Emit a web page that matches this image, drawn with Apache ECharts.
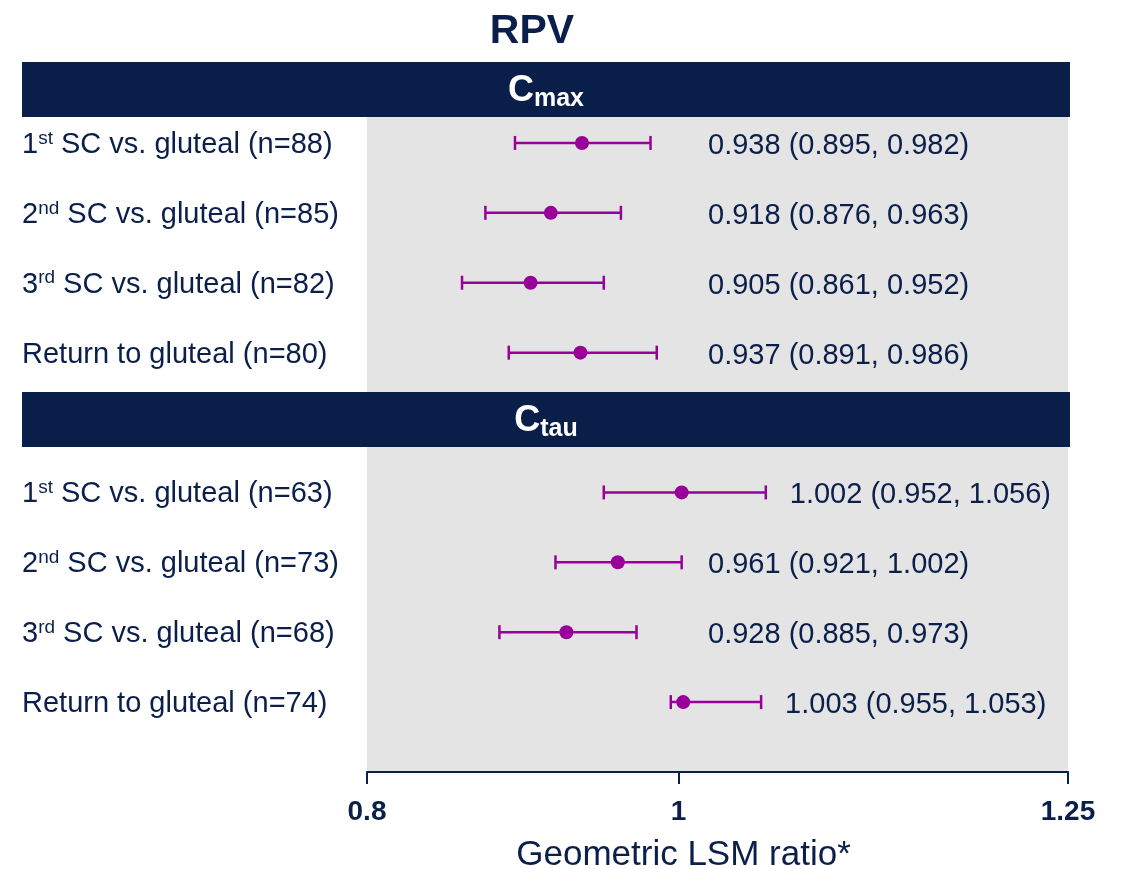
<!DOCTYPE html>
<html>
<head>
<meta charset="utf-8">
<title>RPV</title>
<script src="https://cdn.jsdelivr.net/npm/echarts@6/dist/echarts.min.js"></script>
<style>
  html, body { margin: 0; background: #fff; }
  #main { width: 1122px; height: 869px; }
</style>
</head>
<body>
<div id="main"></div>
<script>
// data
const cmaxRows = ['1st SC vs. gluteal (n=88)', '2nd SC vs. gluteal (n=85)', '3rd SC vs. gluteal (n=82)', 'Return to gluteal (n=80)'];
const cmaxEst = [0.938, 0.918, 0.905, 0.937];
const cmaxLow = [0.895, 0.876, 0.861, 0.891];
const cmaxHigh = [0.982, 0.963, 0.952, 0.986];
const cmaxText = ['0.938 (0.895, 0.982)', '0.918 (0.876, 0.963)', '0.905 (0.861, 0.952)', '0.937 (0.891, 0.986)'];

const ctauRows = ['1st SC vs. gluteal (n=63)', '2nd SC vs. gluteal (n=73)', '3rd SC vs. gluteal (n=68)', 'Return to gluteal (n=74)'];
const ctauEst = [1.002, 0.961, 0.928, 1.003];
const ctauLow = [0.952, 0.921, 0.885, 0.995]; // last whisker is drawn this short in the figure
const ctauHigh = [1.056, 1.002, 0.973, 1.053];
const ctauText = ['1.002 (0.952, 1.056)', '0.961 (0.921, 1.002)', '0.928 (0.885, 0.973)', '1.003 (0.955, 1.053)'];

const xTicks = [0.8, 1, 1.25];

const navy = '#0b1f4b';
const purple = '#990099';
const font = '"Liberation Sans", Arial, sans-serif';

// slot 0..3 = Cmax rows, slot 4 = Ctau header, 5..8 = Ctau rows
const rows = [];
cmaxRows.forEach((name, i) => rows.push([i, cmaxEst[i], cmaxLow[i], cmaxHigh[i], name, cmaxText[i]]));
ctauRows.forEach((name, i) => rows.push([cmaxRows.length + 1 + i, ctauEst[i], ctauLow[i], ctauHigh[i], name, ctauText[i]]));

function richLabel(s) {
  let m = s.match(/^(\d)(st|nd|rd)(.*)$/);
  if (m) return '{n|' + m[1] + '}{s|' + m[2] + '}{n|' + m[3] + '}';
  return '{n|' + s + '}';
}

const labelRich = {
  n: { fontSize: 29, fontFamily: font, fill: navy, color: navy, lineHeight: 32 },
  s: { fontSize: 19, fontFamily: font, fill: navy, color: navy, lineHeight: 18, verticalAlign: 'top' }
};

function renderItem(params, api) {
  let r = rows[params.dataIndex];
  let pe = api.coord([api.value(1), api.value(0)]);
  let xl = api.coord([api.value(2), api.value(0)])[0];
  let xh = api.coord([api.value(3), api.value(0)])[0];
  let y = pe[1];
  let cap = 7;
  let ls = { stroke: purple, lineWidth: 2.5 };
  return {
    type: 'group',
    children: [
      { type: 'line', shape: { x1: xl, y1: y, x2: xh, y2: y }, style: ls },
      { type: 'line', shape: { x1: xl, y1: y - cap, x2: xl, y2: y + cap }, style: ls },
      { type: 'line', shape: { x1: xh, y1: y - cap, x2: xh, y2: y + cap }, style: ls },
      { type: 'circle', shape: { cx: pe[0], cy: y, r: 7 }, style: { fill: purple } },
      {
        type: 'text', x: 22, y: y + 2,
        style: { text: richLabel(r[4]), rich: labelRich, align: 'left', textAlign: 'left', verticalAlign: 'middle', textVerticalAlign: 'middle' }
      },
      {
        type: 'text', x: Math.max(708, xh + 24), y: y + 3,
        style: { text: r[5], fill: navy, fontSize: 29, fontFamily: font, align: 'left', textAlign: 'left', verticalAlign: 'middle', textVerticalAlign: 'middle' }
      }
    ]
  };
}

function header(top, sub) {
  return {
    type: 'group',
    z: 100,
    children: [
      { type: 'rect', shape: { x: 22, y: top, width: 1048, height: 55 }, style: { fill: '#0a1e4a' } },
      {
        type: 'text', x: 546, y: top + 29,
        style: {
          text: '{c|C}{s|' + sub + '}',
          align: 'center', textAlign: 'center', verticalAlign: 'middle', textVerticalAlign: 'middle',
          rich: {
            c: { fontSize: 36, fontWeight: 'bold', fontFamily: font, fill: '#fff', color: '#fff', lineHeight: 42 },
            s: { fontSize: 25, fontWeight: 'bold', fontFamily: font, fill: '#fff', color: '#fff', lineHeight: 26, verticalAlign: 'bottom' }
          }
        }
      }
    ]
  };
}

let chart = echarts.init(document.getElementById('main'));
chart.setOption({
  animation: false,
  backgroundColor: '#fff',
  title: {
    text: 'RPV',
    left: 527,
    top: 6,
    textAlign: 'center',
    textStyle: { fontSize: 41, fontWeight: 'bold', color: navy, fontFamily: font }
  },
  grid: {
    left: 367, right: 54, top: 108, height: 664,
    outerBoundsMode: 'none',
    containLabel: false,
    show: true, backgroundColor: '#e4e4e4', borderWidth: 0
  },
  xAxis: {
    type: 'value',
    min: 0.8,
    max: 1.25,
    splitLine: { show: false },
    axisLine: { onZero: false, lineStyle: { color: navy, width: 2 } },
    axisTick: { customValues: xTicks, length: 12, lineStyle: { color: navy, width: 2 } },
    axisLabel: {
      customValues: xTicks,
      formatter: v => String(v),
      fontSize: 28, fontWeight: 'bold', color: navy, fontFamily: font, margin: 26
    },
    name: 'Geometric LSM ratio*',
    nameLocation: 'middle',
    nameGap: 66,
    nameTextStyle: { fontSize: 35, color: navy, fontFamily: font, padding: [0, 68, 0, 0] }
  },
  yAxis: {
    type: 'value',
    inverse: true,
    min: -0.5,
    max: 9,
    show: false
  },
  graphic: [header(62, 'max'), header(392, 'tau')],
  series: [{
    type: 'custom',
    clip: false,
    silent: true,
    renderItem: renderItem,
    encode: { x: [1, 2, 3], y: 0 },
    data: rows.map(r => r.slice(0, 4))
  }]
});
</script>
</body>
</html>
